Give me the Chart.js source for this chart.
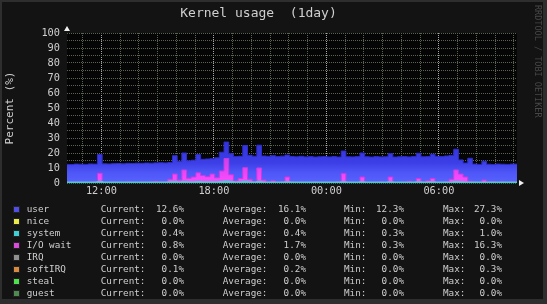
<!DOCTYPE html>
<html>
<head>
<meta charset="utf-8">
<script src="https://cdn.jsdelivr.net/npm/chart.js@4.4.1/dist/chart.umd.min.js"></script>
<style>
  html, body { margin: 0; padding: 0; background: #2e2e2e; }
  #wrap { position: relative; width: 547px; height: 304px; overflow: hidden; }
  #kernelChart { position: absolute; left: 0; top: 0; }
  .row { position: absolute; left: 0; width: 547px; height: 12px; line-height: 12px;
         font: 9.3px 'DejaVu Sans Mono', monospace; color: #cfcfcf; white-space: pre; }
  .row span { position: absolute; top: 0; }
  .row .sw { left: 13px; top: 3px; width: 5px; height: 5px; border: 1px solid #222; }
  .mark { position: absolute; left: 533px; top: 5px; writing-mode: vertical-rl;
          font: 8.5px 'DejaVu Sans Mono', monospace; color: #474747; }
</style>
</head>
<body>
<div id="wrap">
  <canvas id="kernelChart" width="547" height="304"></canvas>
  <div class="mark">RRDTOOL / TOBI OETIKER</div>
  <div id="legend"></div>
</div>
<script>
const MONO = "'DejaVu Sans Mono', monospace";

// time axis: hours of day, window starts 10:10 and runs 24h, one sample every 15 min
const START = 10 + 10 / 60;
const END = START + 24;
const STEP = 0.25;
const hourTicks = [11, 12, 13, 14, 15, 16, 17, 18, 19, 20, 21, 22, 23, 24, 25, 26, 27, 28, 29, 30, 31, 32, 33, 34];
const labelHours = [12, 18, 24, 30];
const labelText = ['12:00', '18:00', '00:00', '06:00'];
const yTicks = [0, 5, 10, 15, 20, 25, 30, 35, 40, 45, 50, 55, 60, 65, 70, 75, 80, 85, 90, 95, 100];

// percent values
const userPct = [12.4, 12.3, 12.6, 12.5, 12.4, 12.7, 12.6, 19.0,
  12.8, 12.7, 12.9, 13.0, 12.8, 13.1, 13.0, 13.2, 13.1, 13.3, 13.2, 13.4, 13.5, 13.4, 13.6,
  18.2, 14.5, 20.0, 14.8, 15.2, 19.0, 15.8, 16.0, 16.2, 16.8, 20.5, 27.3, 19.5, 17.6, 17.8,
  25.0, 18.5, 17.9, 25.2, 18.0, 17.8, 18.2, 17.6, 17.9, 18.6, 17.7, 17.5, 17.8, 17.4, 17.6,
  17.3, 17.5, 17.7, 17.4, 17.6, 17.3, 21.3, 17.5, 17.4, 17.6, 20.0, 17.5, 17.3, 17.6, 17.4,
  17.5, 19.6, 17.3, 17.5, 17.6, 17.4, 17.7, 19.8, 17.5, 17.6, 19.2, 17.8, 17.6, 18.0, 18.4,
  22.5, 15.4, 13.3, 16.5, 12.6, 12.4, 14.5, 12.5, 12.3, 12.6, 12.5, 12.4, 12.6, 12.6];
const iowaitPct = [0.6, 0.5, 0.7, 0.6, 0.5, 0.6, 0.8, 6.5,
  0.6, 0.5, 0.7, 0.6, 0.5, 0.8, 0.6, 0.5, 0.7, 0.6, 0.9, 1.2, 0.8, 1.0, 2.5,
  6.0, 2.0, 8.7, 3.2, 4.0, 6.8, 5.0, 4.2, 6.0, 3.5, 8.0, 16.3, 5.5, 1.5, 3.0,
  10.2, 2.5, 1.2, 10.0, 2.0, 0.8, 1.5, 0.7, 1.0, 4.0, 0.8, 0.6, 0.7, 0.5, 0.6,
  0.8, 0.5, 0.6, 0.7, 0.5, 0.9, 6.4, 0.8, 0.6, 0.5, 4.0, 0.7, 0.5, 0.6, 0.8,
  0.5, 4.0, 0.6, 0.5, 0.7, 1.2, 0.6, 3.0, 0.8, 1.5, 3.0, 0.7, 0.6, 1.0, 2.5,
  8.7, 6.0, 4.0, 1.2, 0.8, 0.6, 2.0, 0.8, 1.0, 0.5, 0.9, 0.6, 0.8, 0.8];
const systemPct = [0.4, 0.4, 0.3, 0.4, 0.4, 0.4, 0.3, 0.6,
  0.4, 0.4, 0.4, 0.3, 0.4, 0.4, 0.4, 0.4, 0.3, 0.4, 0.4, 0.4, 0.4, 0.4, 0.5,
  0.6, 0.4, 0.7, 0.5, 0.5, 0.6, 0.5, 0.5, 0.5, 0.5, 0.6, 1.0, 0.6, 0.4, 0.5,
  0.8, 0.5, 0.4, 0.7, 0.4, 0.4, 0.4, 0.4, 0.4, 0.5, 0.4, 0.4, 0.4, 0.4, 0.4,
  0.3, 0.4, 0.4, 0.4, 0.4, 0.4, 0.5, 0.4, 0.4, 0.4, 0.5, 0.4, 0.4, 0.4, 0.4,
  0.4, 0.5, 0.4, 0.4, 0.4, 0.4, 0.4, 0.5, 0.4, 0.4, 0.5, 0.4, 0.4, 0.4, 0.4,
  0.6, 0.5, 0.4, 0.4, 0.4, 0.4, 0.4, 0.4, 0.4, 0.4, 0.4, 0.4, 0.4, 0.4];

// legend table
const seriesNames = ['user', 'nice', 'system', 'I/O wait', 'IRQ', 'softIRQ', 'steal', 'guest'];
const seriesColors = ['#4f4fe6', '#e8e84c', '#3fcfd2', '#d84cd8', '#8f8f8f', '#d88a40', '#4ee04e', '#4f8a50'];
const curVals = [12.6, 0.0, 0.4, 0.8, 0.0, 0.1, 0.0, 0.0];
const avgVals = [16.1, 0.0, 0.4, 1.7, 0.0, 0.2, 0.0, 0.0];
const minVals = [12.3, 0.0, 0.3, 0.3, 0.0, 0.0, 0.0, 0.0];
const maxVals = [27.3, 0.0, 1.0, 16.3, 0.0, 0.3, 0.0, 0.0];

const pts = arr => arr.map((v, i) => ({ x: START + i * STEP, y: v }));

function vGrad(chart, stops) {
  const area = chart.chartArea;
  if (!area) return stops[0][1];
  const yS = chart.scales.y;
  const g = chart.ctx.createLinearGradient(0, yS.getPixelForValue(0), 0, yS.getPixelForValue(30));
  stops.forEach(s => g.addColorStop(s[0], s[1]));
  return g;
}

const frame = {
  id: 'frame',
  beforeDraw(chart) {
    const { ctx, chartArea: a } = chart;
    ctx.save();
    ctx.fillStyle = '#131313';
    ctx.fillRect(2, 2, 541, 297);
    ctx.fillStyle = '#050505';
    ctx.fillRect(a.left, a.top, a.right - a.left, a.bottom - a.top);
    ctx.restore();
  },
  afterDraw(chart) {
    const { ctx, chartArea: a } = chart;
    ctx.save();
    ctx.fillStyle = '#f0f0f0';
    ctx.beginPath();
    ctx.moveTo(a.left - 3, a.top - 2);
    ctx.lineTo(a.left + 3, a.top - 2);
    ctx.lineTo(a.left, a.top - 7);
    ctx.closePath();
    ctx.fill();
    ctx.beginPath();
    ctx.moveTo(a.right + 2, a.bottom - 3);
    ctx.lineTo(a.right + 2, a.bottom + 3);
    ctx.lineTo(a.right + 7, a.bottom);
    ctx.closePath();
    ctx.fill();
    ctx.restore();
  }
};

new Chart(document.getElementById('kernelChart'), {
  type: 'line',
  data: {
    datasets: [
      {
        label: 'system', data: pts(systemPct), fill: 'origin',
        borderColor: '#3fd2d2', backgroundColor: '#3fd2d2', borderWidth: 2
      },
      {
        label: 'I/O wait', data: pts(iowaitPct), fill: 'origin', borderWidth: 1,
        borderColor: '#c83ce0',
        backgroundColor: ctx => vGrad(ctx.chart, [[0, '#ff4cff'], [0.5, '#d040ec'], [1, '#9a3cf0']])
      },
      {
        label: 'user', data: pts(userPct), fill: 'origin', borderWidth: 1,
        borderColor: '#2e2ecc',
        backgroundColor: ctx => vGrad(ctx.chart, [[0, '#5863ff'], [0.25, '#4d55f6'], [0.45, '#3c3ee6'], [1, '#3030d8']])
      }
    ]
  },
  options: {
    responsive: false,
    animation: false,
    elements: { point: { radius: 0 }, line: { tension: 0, stepped: 'middle' } },
    layout: { padding: { top: 0, left: 0, right: 30, bottom: 104 } },
    plugins: {
      legend: { display: false },
      tooltip: { enabled: false },
      title: {
        display: true, text: 'Kernel usage  (1day)', color: '#cfcfcf',
        font: { family: MONO, size: 13, weight: 'normal' },
        padding: { top: 6, bottom: 11.4 }
      }
    },
    scales: {
      x: {
        type: 'linear', min: START, max: END,
        afterBuildTicks: s => { s.ticks = hourTicks.map(v => ({ value: v })); },
        afterFit: s => { s.height = 17; },
        ticks: {
          autoSkip: false, maxRotation: 0, padding: 2, color: '#cfcfcf',
          font: { family: MONO, size: 10.3 },
          callback: v => { const k = labelHours.indexOf(v); return k < 0 ? '' : labelText[k]; }
        },
        grid: {
          drawTicks: false,
          color: c => (labelHours.includes(c.tick && c.tick.value) ? '#a8a8a8' : '#5b6454')
        },
        border: { display: false, dash: [1, 1] }
      },
      y: {
        min: 0, max: 100,
        afterBuildTicks: s => { s.ticks = yTicks.map(v => ({ value: v })); },
        afterFit: s => { s.width = 67; },
        ticks: {
          autoSkip: false, padding: 7, color: '#cfcfcf',
          font: { family: MONO, size: 10.3 },
          callback: v => (v % 10 === 0 ? String(v) : '')
        },
        grid: { drawTicks: false, color: '#5b6454' },
        border: { display: false, dash: [1, 1] },
        title: {
          display: true, text: 'Percent (%)', color: '#cfcfcf',
          font: { family: MONO, size: 11 }, padding: { top: 4, bottom: 4 }
        }
      }
    }
  },
  plugins: [frame]
});

// legend rows as text
const legend = document.getElementById('legend');
const fmt = v => v.toFixed(1) + '%';
seriesNames.forEach((name, i) => {
  const row = document.createElement('div');
  row.className = 'row';
  row.style.top = (203 + i * 12) + 'px';
  row.innerHTML =
    '<span class="sw" style="background:' + seriesColors[i] + '"></span>' +
    '<span style="left:26.7px">' + name + '</span>' +
    '<span style="left:100.7px">Current:</span>' +
    '<span style="right:363px">' + fmt(curVals[i]) + '</span>' +
    '<span style="left:222.7px">Average:</span>' +
    '<span style="right:241px">' + fmt(avgVals[i]) + '</span>' +
    '<span style="left:344px">Min:</span>' +
    '<span style="right:143px">' + fmt(minVals[i]) + '</span>' +
    '<span style="left:443px">Max:</span>' +
    '<span style="right:45px">' + fmt(maxVals[i]) + '</span>';
  legend.appendChild(row);
});
</script>
</body>
</html>
